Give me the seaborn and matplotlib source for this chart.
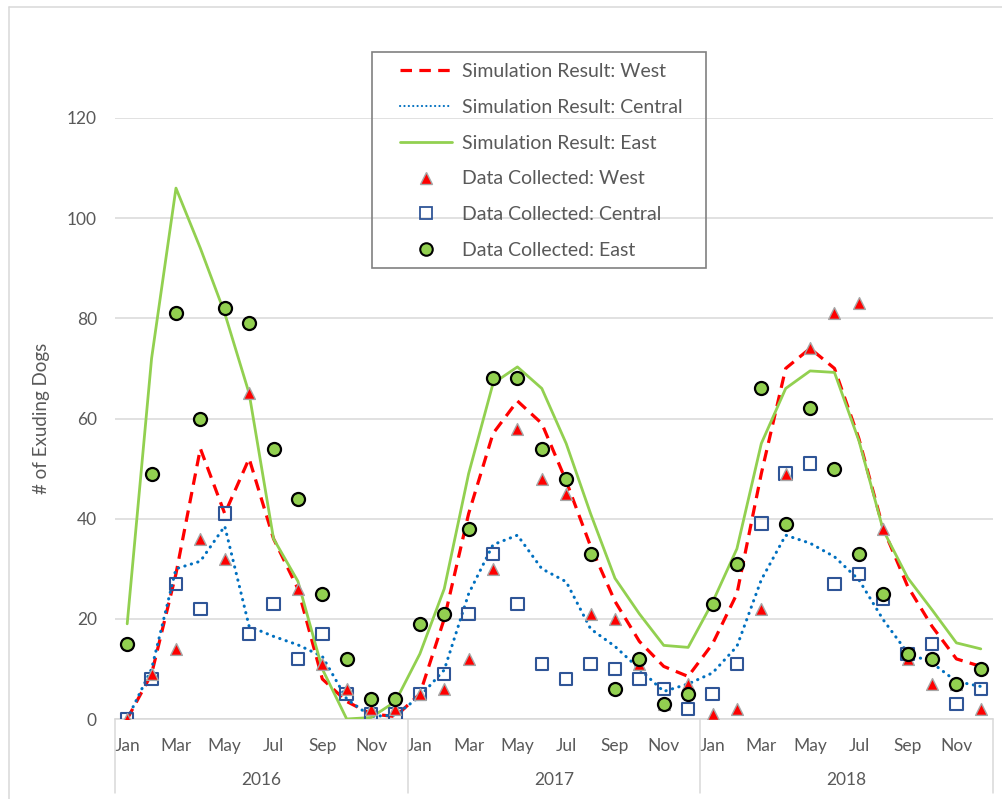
import numpy as np
import pandas as pd
import matplotlib
matplotlib.use("Agg")
import matplotlib.pyplot as plt
from matplotlib.lines import Line2D
from matplotlib.patches import Rectangle
import matplotlib.transforms as mtrans
import seaborn as sns

# ---------------- data ----------------
years = ["2016", "2017", "2018"]
months = ["Jan", "Feb", "Mar", "Apr", "May", "Jun", "Jul", "Aug", "Sep", "Oct", "Nov", "Dec"]

sim_west = [0, 9, 29, 54, 41, 52, 36, 26, 8, 3.5, 1, 0.5,
            5, 20, 41, 57, 63.5, 59, 47.5, 34.5, 23.5, 15.5, 10.5, 8.5,
            15, 25, 49, 70, 74, 70, 56, 38, 26.5, 18.5, 12, 10.5]
sim_central = [0, 10, 30, 31.5, 38.5, 18.5, 16.5, 14.8, 12.5, 4, 0.5, 0.8,
               4.5, 9.8, 25, 34.8, 36.7, 30, 27.4, 18, 14.5, 10, 5.5, 7,
               9.2, 14.5, 27.8, 36.7, 35.1, 32.4, 27.8, 19.8, 13.2, 11.2, 7.5, 6.5]
sim_east = [19, 72, 106, 94, 81, 65, 36, 27.5, 10, 0, 0.3, 3.5,
            13, 26, 49, 67, 70.3, 66, 55, 41, 28.1, 21, 14.7, 14.3,
            23.3, 34, 55, 66, 69.5, 69.2, 55.6, 37.7, 28.2, 21.8, 15.2, 14]

data_west = [0, 9, 14, 36, 32, 65, np.nan, 26, 11, 6, 2, 2,
             5, 6, 12, 30, 58, 48, 45, 21, 20, 11, 3, 7,
             1, 2, 22, 49, 74, 81, 83, 38, 12, 7, 7, 2]
data_central = [0, 8, 27, 22, 41, 17, 23, 12, 17, 5, 1, 1,
                5, 9, 21, 33, 23, 11, 8, 11, 10, 8, 6, 2,
                5, 11, 39, 49, 51, 27, 29, 24, 13, 15, 3, 6]
data_east = [15, 49, 81, 60, 82, 79, 54, 44, 25, 12, 4, 4,
             19, 21, 38, 68, 68, 54, 48, 33, 6, 12, 3, 5,
             23, 31, 66, 39, 62, 50, 33, 25, 13, 12, 7, 10]

y_ticks = [0, 20, 40, 60, 80, 100, 120]

# ---------------- frame ----------------
idx = np.arange(len(years) * len(months))
df = pd.DataFrame({
    "t": idx,
    "sim_west": sim_west, "sim_central": sim_central, "sim_east": sim_east,
    "data_west": data_west, "data_central": data_central, "data_east": data_east,
})

sns.set_theme(style="white")
FONT = ["Lato", "DejaVu Sans"]
plt.rcParams["font.family"] = FONT
TXT = "#595959"

W, H = 1003, 799
fig = plt.figure(figsize=(W / 100, H / 100), dpi=100)
ax = fig.add_axes([115 / W, 80 / H, (993 - 115) / W, (719 - 118) / H])

RED = "#FF0000"
BLUE = "#0070C0"
GREEN = "#92D050"

sns.lineplot(data=df, x="t", y="sim_west", ax=ax, color=RED, linewidth=2.3,
             linestyle=(0, (3.6, 2.3)), zorder=3)
sns.lineplot(data=df, x="t", y="sim_central", ax=ax, color=BLUE, linewidth=2.2,
             linestyle=(0, (0.1, 2.1)), dash_capstyle="round", zorder=3)
sns.lineplot(data=df, x="t", y="sim_east", ax=ax, color=GREEN, linewidth=2.0, zorder=3)

sns.scatterplot(data=df, x="t", y="data_central", ax=ax, marker="s", s=80,
                facecolor="none", edgecolor="#2F5597", linewidth=1.5, zorder=4)
sns.scatterplot(data=df, x="t", y="data_west", ax=ax, marker="^", s=72,
                color=RED, edgecolor="#A6A6A6", linewidth=1.0, zorder=5)
sns.scatterplot(data=df, x="t", y="data_east", ax=ax, marker="o", s=88,
                color=GREEN, edgecolor="black", linewidth=1.6, zorder=6)

ax.set_xlim(-0.5, len(idx) - 0.5)
ax.set_ylim(0, 120)
ax.set_yticks(y_ticks)
ax.set_yticklabels([str(v) for v in y_ticks])
ax.yaxis.grid(True, color="#D9D9D9", linewidth=1.1)
ax.set_axisbelow(True)
ax.tick_params(axis="y", length=0, pad=13, labelsize=12.5, labelcolor=TXT)

tick_pos = idx[::2]
ax.set_xticks(tick_pos)
ax.set_xticklabels([months[i % 12] for i in tick_pos])
ax.tick_params(axis="x", length=0, pad=14, labelsize=12.5, labelcolor=TXT)

for s in ["top", "right", "left"]:
    ax.spines[s].set_visible(False)
ax.spines["bottom"].set_color("#D9D9D9")
ax.spines["bottom"].set_linewidth(1.1)

ax.set_xlabel("")
ax.set_ylabel("# of Exuding Dogs")
ax.yaxis.label.set_fontsize(13.5)
ax.yaxis.label.set_color(TXT)
ax.yaxis.set_label_coords((50 - 115) / (993 - 115), 0.5)

# year group labels & separators
trans = mtrans.blended_transform_factory(ax.transData, ax.transAxes)
sep_bottom = -(793 - 719) / (719 - 118)
for k in range(len(years) + 1):
    xs = k * 12 - 0.5
    ax.plot([xs, xs], [0, sep_bottom], transform=trans, color="#D9D9D9",
            linewidth=1.1, clip_on=False, zorder=1)
for k, yr in enumerate(years):
    ax.text(k * 12 + 5.5, -(780 - 719) / (719 - 118), yr, transform=trans,
            ha="center", va="center", fontsize=12.5, color=TXT)

# legend
handles = [
    Line2D([], [], color=RED, linewidth=2.3, linestyle=(0, (3.6, 2.3))),
    Line2D([], [], color=BLUE, linewidth=1.5, linestyle=(0, (0.1, 2.0)), dash_capstyle="round"),
    Line2D([], [], color=GREEN, linewidth=2.0),
    Line2D([], [], linestyle="none", marker="^", markersize=8.5, markerfacecolor=RED,
           markeredgecolor="#A6A6A6", markeredgewidth=1.0),
    Line2D([], [], linestyle="none", marker="s", markersize=8.5, markerfacecolor="none",
           markeredgecolor="#2F5597", markeredgewidth=1.3),
    Line2D([], [], linestyle="none", marker="o", markersize=9, markerfacecolor=GREEN,
           markeredgecolor="black", markeredgewidth=1.5),
]
labels = ["Simulation Result: West", "Simulation Result: Central", "Simulation Result: East",
          "Data Collected: West", "Data Collected: Central", "Data Collected: East"]
LFS = 14
em = LFS * 100 / 72
leg = fig.legend(handles, labels, loc="upper left",
                 bbox_to_anchor=(400 / W - 0.3 * em / W, 1 - 57 / H), fontsize=LFS,
                 frameon=False,
                 handlelength=52 / em, handletextpad=10 / em, labelspacing=0.97,
                 borderpad=0.3, borderaxespad=0)
for t in leg.get_texts():
    t.set_color(TXT)

fig.add_artist(Rectangle((372 / W, 1 - 268 / H), (706 - 372) / W, (268 - 52) / H,
                         transform=fig.transFigure, facecolor="none",
                         edgecolor="#808080", linewidth=1.2, zorder=10))

# outer chart border (top and left visible)
fig.add_artist(Line2D([9 / W, 1.0], [1 - 7 / H, 1 - 7 / H], transform=fig.transFigure,
                      color="#D9D9D9", linewidth=1.1))
fig.add_artist(Line2D([9 / W, 9 / W], [0, 1 - 7 / H], transform=fig.transFigure,
                      color="#D9D9D9", linewidth=1.1))

fig.savefig("out.png", dpi=100)
